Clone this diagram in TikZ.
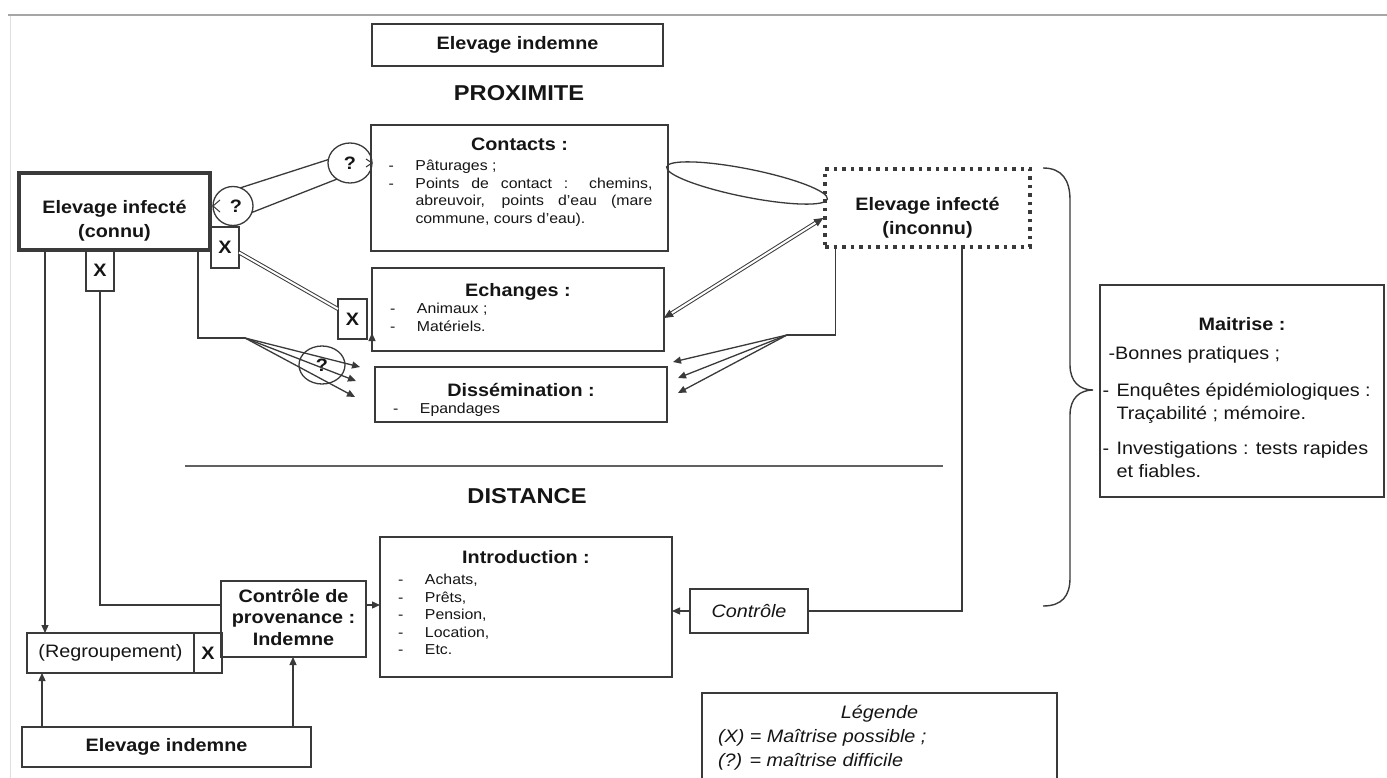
\documentclass[tikz,border=0pt]{standalone}
\usepackage{fontspec}
\setmainfont{Liberation Sans}[FakeStretch=1.1]
\usetikzlibrary{arrows.meta,shapes.geometric,calc}
\definecolor{lc}{HTML}{3A3A3A}
\definecolor{tc}{HTML}{151515}
\newcommand\myT{\fontsize{18}{24}\selectfont\bfseries}
\newcommand\myR{\fontsize{18}{24}\selectfont}
\newcommand\myL{\fontsize{14.4}{17.5}\selectfont}
\newcommand\myH{\fontsize{21.5}{26}\selectfont\bfseries}
\newcommand\dashitem[1]{\makebox[#1][l]{\hspace{8pt}-}}
\begin{document}
\begin{tikzpicture}[x=1pt,y=-1pt,
  every node/.style={text=tc},
  box/.style={draw=lc, line width=1.6pt, inner sep=0pt, outer sep=0pt, align=center},
  xbox/.style={box, font=\myT, minimum width=28pt, minimum height=41pt},
  qc/.style={draw=lc, line width=1.3pt, ellipse, inner sep=0pt, outer sep=0pt, font=\myT},
  conn/.style={draw=lc, line width=1.3pt},
  arr/.style={conn, -{Triangle[length=8pt,width=7pt]}},
  dbl/.style={draw=lc, line width=1pt, double=white, double distance=2pt},
]
\fill[white] (0,0) rectangle (1387,778);
\useasboundingbox (0,0) rectangle (1387,778);
% page decorations
\draw[gray!70, line width=2.5pt] (8,15) -- (1387,15);
\draw[gray!25, line width=1pt] (10,16) -- (10,778);

% ---------- top ----------
\node[box, minimum width=291pt, minimum height=42pt, font=\myT] (topind) at (517.5,45) {Elevage indemne};
\node[font=\myH] (prox) at (519,93) {PROXIMITE};

\node[box, minimum width=297pt, minimum height=126pt] (contacts) at (519.5,188) {\parbox[c][100pt][t]{270pt}{%
  \centering{\myT Contacts :}\par\vspace{2.5pt}
  \raggedright\myL
  \makebox[31pt][l]{\hspace{4pt}-}Pâturages ;\par
  \makebox[31pt][l]{\hspace{4pt}-}\hbox to 237pt{Points de contact : chemins,}\par
  \hspace*{31pt}\hbox to 237pt{abreuvoir, points d'eau (mare}\par
  \hspace*{31pt}commune, cours d'eau).}};

\node[box, minimum width=292pt, minimum height=83pt] (echanges) at (518,309.5) {\parbox[c][53pt][t]{272pt}{%
  \centering{\myT Echanges :}\par
  \raggedright\myL
  \dashitem{35pt}Animaux ;\par
  \dashitem{35pt}Matériels.}};

\node[box, minimum width=292pt, minimum height=55pt] (dissem) at (521,394.5) {\parbox[c][23pt][t]{272pt}{%
  \centering{\myT Dissémination :}\par
  \raggedright\myL
  \dashitem{35pt}Epandages}};

\node[box, line width=4pt, minimum width=191pt, minimum height=77pt] (connu) at (114.5,211.5) {\parbox[c][23pt][t]{185pt}{\centering\myT Elevage infecté\\(connu)}};
\node[xbox] (Xc) at (100,270.5) {X};
\node[xbox] (Xr) at (225,247.5) {X};
\node[xbox, minimum width=29pt, minimum height=40pt] (Xe) at (352.5,319) {X};
\node[qc, minimum width=40pt, minimum height=39pt] (q1) at (233,206) {\hspace{6pt}?};
\node[qc, minimum width=44pt, minimum height=40pt] (q2) at (350,163) {?};
\node[qc, minimum width=46pt, minimum height=38pt] (q3) at (322,365) {?};

\node[draw=lc, line width=3.5pt, dash pattern=on 3.5pt off 5pt, inner sep=0pt, minimum width=205pt, minimum height=78pt] (inconnu) at (927.5,208) {\parbox[c][22pt][t]{200pt}{\centering\myT Elevage infecté\\(inconnu)}};
\node[draw=lc, line width=1.3pt, ellipse, inner sep=0pt, minimum width=164pt, minimum height=28pt, rotate=-11.3] (ell) at (747,183) {};

% connectors proximity
\draw[conn] (q1.68) -- (q2.171);
\draw[conn] (q1.-19) -- (q2.231);
\draw[conn, line width=1pt] ($(q1.west)+(7,-6)$) -- (q1.west) -- ($(q1.west)+(7,6)$);
\draw[conn, line width=1pt] ($(q2.east)+(-6,-4)$) -- (q2.east) -- ($(q2.east)+(-6,4)$);
\draw[dbl] ($(Xr.east)+(0,5)$) -- ($(Xe.west)+(0,-10)$);
\draw[arr] ($(Xe.south east)+(5,2)$) -- ($(Xe.south east)+(5,-6)$);

\coordinate (fanL) at (245,338);
\coordinate (tl1) at (360,367);
\coordinate (tl2) at (356,381);
\coordinate (tl3) at (355,397);
\draw[conn] ($(connu.south east)+(-12,0)$) |- (fanL);
\foreach \t in {tl1,tl2,tl3} \draw[arr] (fanL) -- (\t);

\draw[dbl, {Triangle[length=9pt,width=8pt]}-{Triangle[length=9pt,width=8pt]}] ($(inconnu.west)+(0,10)$) -- ($(echanges.east)+(0,8.5)$);

\coordinate (fanR) at (787,335);
\coordinate (tr1) at (673,362);
\coordinate (tr2) at (678,378);
\coordinate (tr3) at (678,393);
\draw[conn] ($(inconnu.south west)+(12,0)$) |- (fanR);
\foreach \t in {tr1,tr2,tr3} \draw[arr] (fanR) -- (\t);

% ---------- separator ----------
\draw[draw=lc!80, line width=1.5pt] (185,466) -- (943,466);
\node[font=\myH] (dist) at (527,496) {DISTANCE};

% ---------- distance ----------
\node[box, minimum width=292pt, minimum height=140pt] (intro) at (526,607) {\parbox[c][114pt][t]{272pt}{%
  \centering{\myT Introduction :}\par\vspace{4pt}
  \raggedright\myL
  \dashitem{35pt}Achats,\par
  \dashitem{35pt}Prêts,\par
  \dashitem{35pt}Pension,\par
  \dashitem{35pt}Location,\par
  \dashitem{35pt}Etc.}};

\node[box, minimum width=145pt, minimum height=76pt] (cdp) at (293.5,619) {\parbox[c][60pt][t]{140pt}{\centering\fontsize{18}{21.5}\selectfont\bfseries Contrôle de\\provenance :\\Indemne}};
\node[box, minimum width=167pt, minimum height=40pt, font=\myR] (regroup) at (110.5,653) {(Regroupement)};
\node[xbox, minimum height=40pt] (Xg) at (208,653) {X};
\node[box, minimum width=289pt, minimum height=40pt, font=\myT] (botind) at (166.5,747) {Elevage indemne};
\node[box, minimum width=118pt, minimum height=44pt, font=\myR\itshape] (controle) at (749,611) {Contrôle};

\coordinate (b1) at ($(botind.north west)+(20,0)$);
\coordinate (b2) at ($(botind.north west)+(271,0)$);
\coordinate (c1) at ($(connu.south west)+(26,0)$);
\draw[arr] (c1) -- (c1 |- regroup.north);
\draw[conn] (Xc.south) |- ($(cdp.west)+(0,-14)$);
\draw[arr] ($(cdp.east)+(0,-14)$) -- ($(intro.west)+(0,-2)$);
\draw[arr] (b1) -- (b1 |- regroup.south);
\draw[arr] (b2) -- (b2 |- cdp.south);
\draw[conn] ($(inconnu.south)+(34.5,0)$) |- (controle.east);
\draw[arr] (controle.west) -- (intro.east |- controle.west);

% ---------- right side ----------
\draw[conn, line width=1.4pt] (1043,168) .. controls (1062,168) and (1070,180) .. (1070,200) -- (1070,365)
  .. controls (1070,382) and (1080,390) .. (1093,390)
  .. controls (1080,390) and (1070,398) .. (1070,415) -- (1070,578)
  .. controls (1070,596) and (1062,606) .. (1043,606);

\node[box, minimum width=284pt, minimum height=212pt] (maitrise) at (1242,391) {\parbox[c][148pt][t]{279pt}{%
  \raggedright\fontsize{18}{23}\selectfont
  \makebox[279pt]{\bfseries Maitrise :}\\[6pt]
  \hspace*{6pt}-Bonnes pratiques ;\\[14pt]
  \makebox[14pt][l]{-}Enquêtes épidémiologiques :\\
  \hspace*{14pt}Traçabilité ; mémoire.\\[12pt]
  \makebox[14pt][l]{-}Investigations : tests rapides\\
  \hspace*{14pt}et fiables.}};

\node[box, anchor=north west, minimum width=355pt, minimum height=110pt] (legend) at (702,693) {\parbox[c][86pt][t]{323pt}{%
  \raggedright\myR\itshape
  \makebox[323pt]{Légende}\\
  (X) = Maîtrise possible ;\\
  (?) = maîtrise difficile}};
\end{tikzpicture}
\end{document}
